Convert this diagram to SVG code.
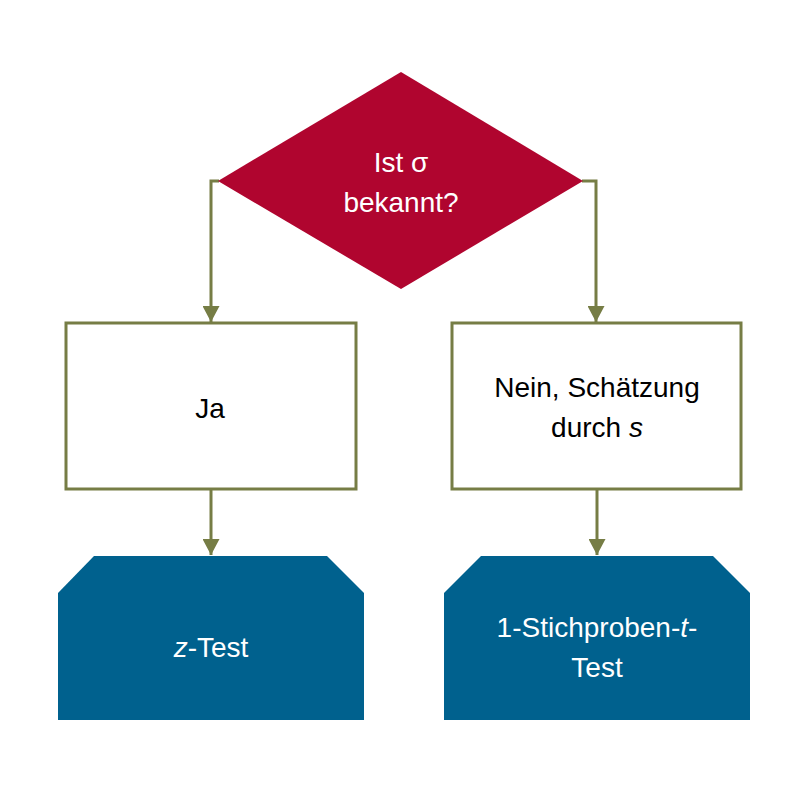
<svg xmlns="http://www.w3.org/2000/svg" width="800" height="788" viewBox="0 0 800 788">
<style>
.t{font-family:"Liberation Sans",Arial,sans-serif;font-size:28px;text-anchor:middle}
.w{fill:#ffffff}
.k{fill:#000000}
.c{fill:none;stroke:#767D45;stroke-width:3}
.box{fill:#ffffff;stroke:#767D45;stroke-width:3}
.end{fill:#00618E}
</style>
<defs>
<marker id="arr" markerUnits="userSpaceOnUse" markerWidth="17" markerHeight="17" refX="16" refY="8.5" orient="auto" viewBox="0 0 17 17">
<path d="M0,0 L16,8.5 L0,17 Z" fill="#767D45"/>
</marker>
</defs>
<rect width="800" height="788" fill="#ffffff"/>
<g id="connectors">
<path class="c" d="M219,181 H211 V322" marker-end="url(#arr)"/>
<path class="c" d="M582,181 H596 V322" marker-end="url(#arr)"/>
<path class="c" d="M211,489 V555" marker-end="url(#arr)"/>
<path class="c" d="M597,489 V555" marker-end="url(#arr)"/>
</g>
<g id="decision">
<polygon points="401,72 583,181 401,289 218,181" fill="#B0052F"/>
<text class="t w" x="401" y="172">Ist σ</text>
<text class="t w" x="401" y="212">bekannt?</text>
</g>
<g id="ja">
<rect class="box" x="66" y="323" width="290" height="166"/>
<text class="t k" x="210" y="418">Ja</text>
</g>
<g id="nein">
<rect class="box" x="452" y="323" width="289" height="166"/>
<text class="t k" x="597" y="397">Nein, Schätzung</text>
<text class="t k" x="597" y="437">durch <tspan font-style="italic">s</tspan></text>
</g>
<g id="ztest">
<polygon class="end" points="94,556 327,556 364,593 364,720 58,720 58,593"/>
<text class="t w" x="211" y="657"><tspan font-style="italic">z</tspan>-Test</text>
</g>
<g id="ttest">
<polygon class="end" points="481,556 713,556 750,593 750,720 444,720 444,593"/>
<text class="t w" x="597" y="637">1-Stichproben-<tspan font-style="italic">t</tspan>-</text>
<text class="t w" x="597" y="677">Test</text>
</g>
</svg>
